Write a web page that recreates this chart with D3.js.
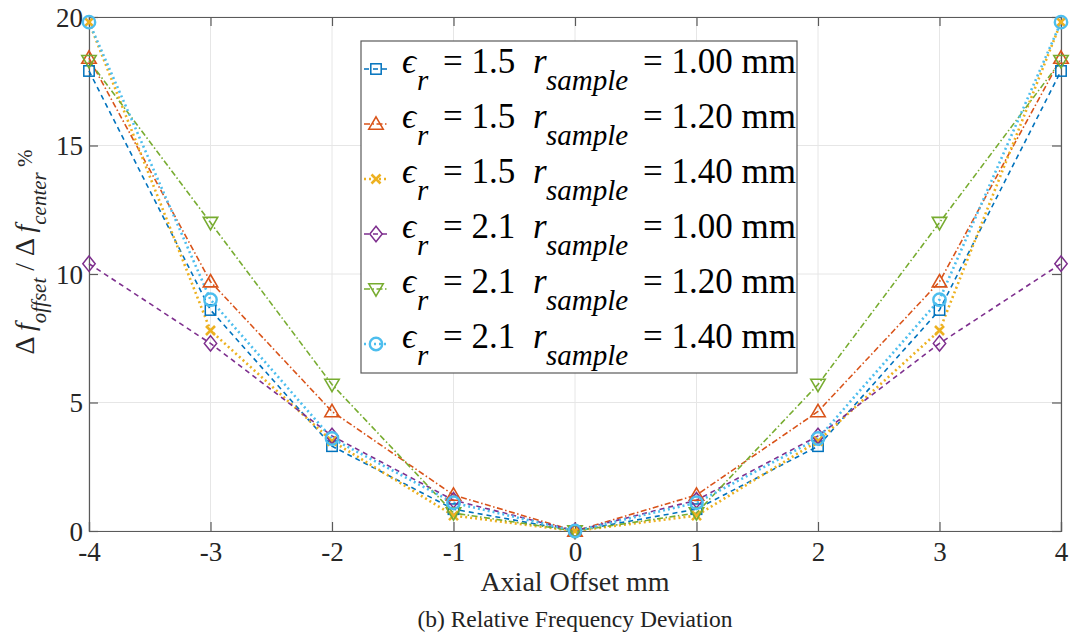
<!DOCTYPE html>
<html>
<head>
<meta charset="utf-8">
<script src="https://cdn.jsdelivr.net/npm/d3@7"></script>
</head>
<body style="margin:0">
<script>
'use strict';
(function(){

	// data
	var offsets = [-4, -3, -2, -1, 0, 1, 2, 3, 4];
	var er15r100 = [17.9, 8.6, 3.3, 0.85, 0, 0.85, 3.3, 8.6, 17.9];
	var er15r120 = [18.4, 9.7, 4.65, 1.4, 0, 1.4, 4.65, 9.7, 18.4];
	var er15r140 = [19.8, 7.8, 3.5, 0.6, 0, 0.6, 3.5, 7.8, 19.8];
	var er21r100 = [10.4, 7.3, 3.7, 1.2, 0, 1.2, 3.7, 7.3, 10.4];
	var er21r120 = [18.3, 12.0, 5.7, 0.7, 0, 0.7, 5.7, 12.0, 18.3];
	var er21r140 = [19.8, 9.0, 3.6, 1.1, 0, 1.1, 3.6, 9.0, 19.8];

	var epsValues = ['1.5', '1.5', '1.5', '2.1', '2.1', '2.1'];
	var radiusValues = ['1.00', '1.20', '1.40', '1.00', '1.20', '1.40'];
	var xTicks = [-4, -3, -2, -1, 0, 1, 2, 3, 4];
	var yTicks = [0, 5, 10, 15, 20];

	var series = [
		{ values: er15r100, color: '#0072BD', dash: '5,4', width: 1.6, marker: 'square' },
		{ values: er15r120, color: '#D95319', dash: '6,2.5,1.5,2.5', width: 1.6, marker: 'triangle' },
		{ values: er15r140, color: '#EDB120', dash: '2,3', width: 2.6, marker: 'cross' },
		{ values: er21r100, color: '#7E2F8E', dash: '5,4', width: 1.6, marker: 'diamond' },
		{ values: er21r120, color: '#77AC30', dash: '6,2.5,1.5,2.5', width: 1.6, marker: 'triangleDown' },
		{ values: er21r140, color: '#4DBEEE', dash: '2,3', width: 2.6, marker: 'circle' }
	];

	var serif = 'Liberation Serif';
	var width = 1077, height = 639;
	var margin = { left: 89, right: 16, top: 17, bottom: 108 };
	var plotW = width - margin.left - margin.right;
	var plotH = height - margin.top - margin.bottom;

	var svg = d3.select('body').append('svg')
		.attr('width', width)
		.attr('height', height)
		.attr('font-family', serif);

	var x = d3.scaleLinear().domain([-4, 4]).range([margin.left, margin.left + plotW]);
	var y = d3.scaleLinear().domain([0, 20]).range([margin.top + plotH, margin.top]);

	// grid
	svg.append('g').selectAll('line')
		.data(xTicks).enter().append('line')
		.attr('x1', function (d) { return x(d); })
		.attr('x2', function (d) { return x(d); })
		.attr('y1', y(0)).attr('y2', y(20))
		.attr('stroke', '#e6e6e6').attr('stroke-width', 1);
	svg.append('g').selectAll('line')
		.data(yTicks).enter().append('line')
		.attr('x1', x(-4)).attr('x2', x(4))
		.attr('y1', function (d) { return y(d); })
		.attr('y2', function (d) { return y(d); })
		.attr('stroke', '#e6e6e6').attr('stroke-width', 1);

	// axes (ticks pointing in, MATLAB style)
	var axisColor = '#5a5a5a';
	var bottomAxis = svg.append('g')
		.attr('transform', 'translate(0,' + y(0) + ')')
		.call(d3.axisBottom(x).tickValues(xTicks).tickSize(-9).tickPadding(11)
			.tickFormat(function (d) { return d < 0 ? '-' + Math.abs(d) : d; }));
	var leftAxis = svg.append('g')
		.attr('transform', 'translate(' + x(-4) + ',0)')
		.call(d3.axisLeft(y).tickValues(yTicks).tickSize(-9).tickPadding(6));
	var topAxis = svg.append('g')
		.attr('transform', 'translate(0,' + y(20) + ')')
		.call(d3.axisTop(x).tickValues(xTicks).tickSize(-9).tickFormat(''));
	var rightAxis = svg.append('g')
		.attr('transform', 'translate(' + x(4) + ',0)')
		.call(d3.axisRight(y).tickValues(yTicks).tickSize(-9).tickFormat(''));

	[bottomAxis, leftAxis, topAxis, rightAxis].forEach(function (g) {
		g.attr('font-family', serif).attr('font-size', 27);
		g.select('.domain').attr('stroke', axisColor).attr('stroke-width', 1.2);
		g.selectAll('.tick line').attr('stroke', axisColor).attr('stroke-width', 1.2);
		g.selectAll('.tick text').attr('fill', '#262626');
	});
	leftAxis.selectAll('.tick text').attr('dy', '0.35em');

	// series lines
	var line = d3.line()
		.x(function (d, i) { return x(offsets[i]); })
		.y(function (d) { return y(d); });

	var plot = svg.append('g');

	function drawMarker(g, type, color, cx, cy) {
		var s = 6.2;
		if (type === 'square') {
			g.append('rect').attr('x', cx - s + 1).attr('y', cy - s + 1)
				.attr('width', 2 * s - 2).attr('height', 2 * s - 2)
				.attr('fill', 'none').attr('stroke', color).attr('stroke-width', 1.5);
		} else if (type === 'triangle') {
			g.append('path')
				.attr('d', 'M' + cx + ',' + (cy - s - 1) + 'L' + (cx + s + 1) + ',' + (cy + s - 1) + 'L' + (cx - s - 1) + ',' + (cy + s - 1) + 'Z')
				.attr('fill', 'none').attr('stroke', color).attr('stroke-width', 1.6);
		} else if (type === 'triangleDown') {
			g.append('path')
				.attr('d', 'M' + cx + ',' + (cy + s + 1) + 'L' + (cx + s + 1) + ',' + (cy - s + 1) + 'L' + (cx - s - 1) + ',' + (cy - s + 1) + 'Z')
				.attr('fill', 'none').attr('stroke', color).attr('stroke-width', 1.6);
		} else if (type === 'diamond') {
			g.append('path')
				.attr('d', 'M' + cx + ',' + (cy - s - 1.5) + 'L' + (cx + s) + ',' + cy + 'L' + cx + ',' + (cy + s + 1.5) + 'L' + (cx - s) + ',' + cy + 'Z')
				.attr('fill', 'none').attr('stroke', color).attr('stroke-width', 1.5);
		} else if (type === 'cross') {
			g.append('path')
				.attr('d', 'M' + (cx - 4.5) + ',' + (cy - 4.5) + 'L' + (cx + 4.5) + ',' + (cy + 4.5) + 'M' + (cx + 4.5) + ',' + (cy - 4.5) + 'L' + (cx - 4.5) + ',' + (cy + 4.5))
				.attr('fill', 'none').attr('stroke', color).attr('stroke-width', 2.6);
		} else if (type === 'circle') {
			g.append('circle').attr('cx', cx).attr('cy', cy).attr('r', s)
				.attr('fill', 'none').attr('stroke', color).attr('stroke-width', 2.4);
		}
	}

	series.forEach(function (s) {
		plot.append('path')
			.datum(s.values)
			.attr('d', line)
			.attr('fill', 'none')
			.attr('stroke', s.color)
			.attr('stroke-width', s.width)
			.attr('stroke-dasharray', s.dash);
	});
	series.forEach(function (s) {
		var mg = plot.append('g');
		s.values.forEach(function (v, i) {
			drawMarker(mg, s.marker, s.color, x(offsets[i]), y(v));
		});
	});

	// legend
	var lg = svg.append('g').attr('transform', 'translate(361,41)');
	lg.append('rect')
		.attr('width', 436).attr('height', 332)
		.attr('fill', '#fff').attr('stroke', '#5a5a5a').attr('stroke-width', 1.2);

	series.forEach(function (s, i) {
		var row = lg.append('g').attr('transform', 'translate(0,' + (32 + i * 55) + ')');
		row.append('line')
			.attr('x1', 3).attr('x2', 27).attr('y1', -4).attr('y2', -4)
			.attr('stroke', s.color).attr('stroke-width', s.width)
			.attr('stroke-dasharray', s.dash);
		drawMarker(row, s.marker, s.color, 15, -4);

		var t = row.append('text').attr('font-size', 35).attr('fill', '#000');
		t.append('tspan').attr('x', 41).attr('y', 0)
			.attr('font-style', 'italic').text('\u03F5');
		t.append('tspan').attr('x', 56).attr('y', 17)
			.attr('font-style', 'italic').attr('font-size', 29).text('r');
		t.append('tspan').attr('x', 82).attr('y', 0).text('= ' + epsValues[i]);
		t.append('tspan').attr('x', 172).attr('y', 0)
			.attr('font-style', 'italic').text('r');
		t.append('tspan').attr('x', 185).attr('y', 17)
			.attr('font-style', 'italic').attr('font-size', 29).text('sample');
		t.append('tspan').attr('x', 282).attr('y', 0).text('= ' + radiusValues[i] + ' mm');
	});

	// y label
	var yl = svg.append('text')
		.attr('transform', 'translate(34,252) rotate(-90)')
		.attr('text-anchor', 'middle')
		.attr('font-size', 28).attr('fill', '#262626');
	yl.append('tspan').text('\u0394 ');
	yl.append('tspan').attr('font-style', 'italic').text('f');
	yl.append('tspan').attr('font-style', 'italic').attr('font-size', 21).attr('dy', 12).text('offset');
	yl.append('tspan').attr('dy', -12).text(' / \u0394 ');
	yl.append('tspan').attr('font-style', 'italic').text('f');
	yl.append('tspan').attr('font-style', 'italic').attr('font-size', 21).attr('dy', 12).text('center');
	yl.append('tspan').attr('dy', -14).attr('font-size', 21).text(' %');

	// x label and caption
	svg.append('text')
		.attr('x', x(0)).attr('y', 591)
		.attr('text-anchor', 'middle')
		.attr('font-size', 28).attr('fill', '#262626')
		.text('Axial Offset mm');

	svg.append('text')
		.attr('x', x(0)).attr('y', 627)
		.attr('text-anchor', 'middle')
		.attr('font-size', 23.5).attr('fill', '#222')
		.text('(b) Relative Frequency Deviation');

}());
</script>
</body>
</html>
